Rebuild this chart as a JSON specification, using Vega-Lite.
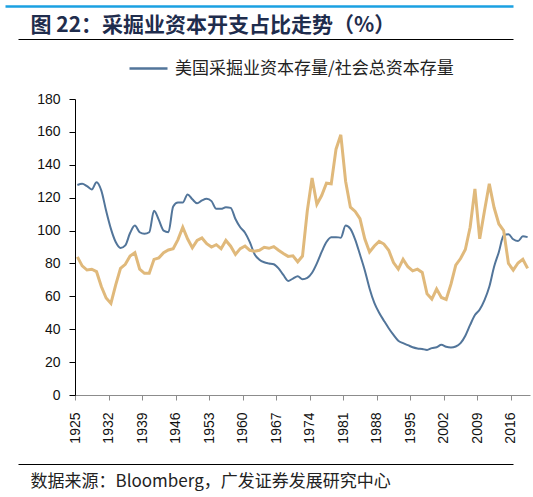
{
  "$schema": "https://vega.github.io/schema/vega-lite/v6.json",
  "autosize": {"type": "none"},
  "padding": {"left": 75, "top": 99, "right": 3, "bottom": 102},
  "width": 455,
  "height": 296,
  "background": "white",
  "config": {
    "view": {"stroke": null},
    "axisY": {
      "title": null,
      "grid": false,
      "domainColor": "#000000",
      "tickColor": "#000000",
      "tickSize": 6,
      "labelPadding": 9,
      "labelFont": "Liberation Sans",
      "labelFontSize": 14,
      "labelColor": "#111111",
      "labelOverlap": false,
      "labelFlush": false
    }
  },
  "data": {
    "values": [
      {"year": 1925, "stock": 127.7, "capex": 84},
      {"year": 1926, "stock": 128.5, "capex": 78.5},
      {"year": 1927, "stock": 127, "capex": 76},
      {"year": 1928, "stock": 125, "capex": 76.5},
      {"year": 1929, "stock": 129.4, "capex": 75},
      {"year": 1930, "stock": 124.3, "capex": 66},
      {"year": 1931, "stock": 112, "capex": 59},
      {"year": 1932, "stock": 101, "capex": 55.7},
      {"year": 1933, "stock": 93, "capex": 67},
      {"year": 1934, "stock": 89.4, "capex": 77},
      {"year": 1935, "stock": 91, "capex": 79.5},
      {"year": 1936, "stock": 98.5, "capex": 84.5},
      {"year": 1937, "stock": 103, "capex": 86.6},
      {"year": 1938, "stock": 99, "capex": 76.5},
      {"year": 1939, "stock": 98, "capex": 74},
      {"year": 1940, "stock": 99, "capex": 74},
      {"year": 1941, "stock": 112, "capex": 82.5},
      {"year": 1942, "stock": 106.5, "capex": 83.4},
      {"year": 1943, "stock": 100, "capex": 86.5},
      {"year": 1944, "stock": 99, "capex": 88.2},
      {"year": 1945, "stock": 114.6, "capex": 89},
      {"year": 1946, "stock": 117, "capex": 94.5},
      {"year": 1947, "stock": 117, "capex": 102},
      {"year": 1948, "stock": 122, "capex": 95},
      {"year": 1949, "stock": 119, "capex": 89.5},
      {"year": 1950, "stock": 116.6, "capex": 94},
      {"year": 1951, "stock": 118.3, "capex": 95.5},
      {"year": 1952, "stock": 119.3, "capex": 92},
      {"year": 1953, "stock": 117.9, "capex": 90},
      {"year": 1954, "stock": 113.2, "capex": 91.4},
      {"year": 1955, "stock": 113.2, "capex": 89},
      {"year": 1956, "stock": 114.2, "capex": 94},
      {"year": 1957, "stock": 113.8, "capex": 90.5},
      {"year": 1958, "stock": 107, "capex": 85.5},
      {"year": 1959, "stock": 102, "capex": 89},
      {"year": 1960, "stock": 98.7, "capex": 90.6},
      {"year": 1961, "stock": 93, "capex": 88},
      {"year": 1962, "stock": 85.6, "capex": 87.4},
      {"year": 1963, "stock": 82.3, "capex": 88},
      {"year": 1964, "stock": 80.7, "capex": 89.8},
      {"year": 1965, "stock": 80, "capex": 89.2},
      {"year": 1966, "stock": 79.5, "capex": 90.2},
      {"year": 1967, "stock": 77, "capex": 88},
      {"year": 1968, "stock": 73, "capex": 86},
      {"year": 1969, "stock": 69.4, "capex": 84.3},
      {"year": 1970, "stock": 70.8, "capex": 84.6},
      {"year": 1971, "stock": 72.2, "capex": 81},
      {"year": 1972, "stock": 70.4, "capex": 84.5},
      {"year": 1973, "stock": 71.2, "capex": 112},
      {"year": 1974, "stock": 74.3, "capex": 132},
      {"year": 1975, "stock": 80, "capex": 116},
      {"year": 1976, "stock": 87, "capex": 121.3},
      {"year": 1977, "stock": 93, "capex": 128.8},
      {"year": 1978, "stock": 95.9, "capex": 128.4},
      {"year": 1979, "stock": 96, "capex": 149.5},
      {"year": 1980, "stock": 95.7, "capex": 158.2},
      {"year": 1981, "stock": 103, "capex": 130},
      {"year": 1982, "stock": 101, "capex": 114.2},
      {"year": 1983, "stock": 94.5, "capex": 111.6},
      {"year": 1984, "stock": 85.4, "capex": 107.2},
      {"year": 1985, "stock": 75.9, "capex": 95},
      {"year": 1986, "stock": 64.8, "capex": 87},
      {"year": 1987, "stock": 56, "capex": 90.6},
      {"year": 1988, "stock": 50, "capex": 93.4},
      {"year": 1989, "stock": 45.2, "capex": 91.8},
      {"year": 1990, "stock": 40.6, "capex": 88},
      {"year": 1991, "stock": 36.5, "capex": 80.5},
      {"year": 1992, "stock": 33, "capex": 76.5},
      {"year": 1993, "stock": 31.5, "capex": 82.5},
      {"year": 1994, "stock": 30.3, "capex": 78},
      {"year": 1995, "stock": 29, "capex": 75.5},
      {"year": 1996, "stock": 28.3, "capex": 76.5},
      {"year": 1997, "stock": 28, "capex": 74.5},
      {"year": 1998, "stock": 27.4, "capex": 61.5},
      {"year": 1999, "stock": 28.5, "capex": 58.3},
      {"year": 2000, "stock": 29, "capex": 64.4},
      {"year": 2001, "stock": 30.5, "capex": 59.3},
      {"year": 2002, "stock": 29.3, "capex": 58.1},
      {"year": 2003, "stock": 28.9, "capex": 67.4},
      {"year": 2004, "stock": 29.5, "capex": 79},
      {"year": 2005, "stock": 31.5, "capex": 83},
      {"year": 2006, "stock": 36, "capex": 88.5},
      {"year": 2007, "stock": 42.6, "capex": 102},
      {"year": 2008, "stock": 48.6, "capex": 125.3},
      {"year": 2009, "stock": 52, "capex": 95},
      {"year": 2010, "stock": 57.7, "capex": 112},
      {"year": 2011, "stock": 65.8, "capex": 128.4},
      {"year": 2012, "stock": 78, "capex": 114},
      {"year": 2013, "stock": 87, "capex": 104},
      {"year": 2014, "stock": 97, "capex": 100},
      {"year": 2015, "stock": 97.7, "capex": 80},
      {"year": 2016, "stock": 94.7, "capex": 76},
      {"year": 2017, "stock": 93.6, "capex": 80.3},
      {"year": 2018, "stock": 96.5, "capex": 82.5},
      {"year": 2019, "stock": 96, "capex": 77}
    ]
  },
  "resolve": {"scale": {"x": "independent"}, "axis": {"x": "independent"}},
  "layer": [
    {
      "mark": {"type": "line", "interpolate": "monotone", "strokeWidth": 2},
      "encoding": {
        "x": {
          "field": "year",
          "type": "quantitative",
          "scale": {"domain": [1924.5, 2019.5], "nice": false, "zero": false},
          "axis": {
            "orient": "bottom",
            "title": null,
            "grid": false,
            "values": [1924.5, 1931.5, 1938.5, 1945.5, 1952.5, 1959.5, 1966.5, 1973.5, 1980.5, 1987.5, 1994.5, 2001.5, 2008.5, 2015.5],
            "labelExpr": "format(datum.value + 0.5, 'd')",
            "domainColor": "#8c8c8c",
            "tickColor": "#8c8c8c",
            "tickSize": 5,
            "labelAngle": 270,
            "labelAlign": "right",
            "labelBaseline": "middle",
            "labelPadding": 12,
            "labelFont": "Liberation Sans",
            "labelFontSize": 14,
            "labelColor": "#111111",
            "labelOverlap": false,
            "labelFlush": false,
            "labelBound": false
          }
        },
        "y": {
          "field": "stock",
          "type": "quantitative",
          "scale": {"domain": [0, 180], "nice": false},
          "axis": {"values": [0, 20, 40, 60, 80, 100, 120, 140, 160, 180]}
        },
        "color": {
          "datum": "美国采掘业资本存量/社会总资本存量",
          "scale": {"range": ["#52759a"]},
          "legend": {
            "orient": "none",
            "legendX": 53,
            "legendY": -51,
            "title": null,
            "padding": 0,
            "symbolType": "stroke",
            "symbolSize": 1444,
            "symbolStrokeWidth": 2.5,
            "labelOffset": 6,
            "labelLimit": 0,
            "labelFont": "Noto Sans CJK SC",
            "labelFontSize": 17,
            "labelColor": "#222222"
          }
        }
      }
    },
    {
      "mark": {"type": "line", "color": "#e0b97b", "strokeWidth": 3},
      "encoding": {
        "x": {
          "field": "year",
          "type": "quantitative",
          "scale": {"domain": [1924.5, 2019.5], "nice": false, "zero": false},
          "axis": null
        },
        "y": {
          "field": "capex",
          "type": "quantitative",
          "scale": {"domain": [0, 180], "nice": false},
          "axis": {"values": [0, 20, 40, 60, 80, 100, 120, 140, 160, 180]}
        }
      }
    },
    {
      "data": {"values": [{}]},
      "mark": {"type": "point", "opacity": 0},
      "encoding": {
        "x": {
          "datum": 0,
          "type": "quantitative",
          "scale": {"domain": [0, 1], "range": [-70, 438]},
          "axis": {
            "orient": "top",
            "offset": 93,
            "title": null,
            "labels": false,
            "ticks": false,
            "grid": false,
            "domainColor": "#1ba1e2",
            "domainWidth": 2.5
          }
        }
      }
    },
    {
      "data": {"values": [{}]},
      "mark": {"type": "point", "opacity": 0},
      "encoding": {
        "x": {
          "datum": 0,
          "type": "quantitative",
          "scale": {"domain": [0, 1], "range": [-57, 438]},
          "axis": {
            "orient": "top",
            "offset": 60,
            "labels": false,
            "ticks": false,
            "grid": false,
            "domainColor": "#000000",
            "domainWidth": 1,
            "title": "图 22：采掘业资本开支占比走势（%）",
            "titleFont": "Noto Sans CJK SC",
            "titleFontSize": 21,
            "titleFontWeight": "bold",
            "titleColor": "#1f2d4d",
            "titleX": -45,
            "titleY": -8,
            "titleAlign": "left",
            "titleBaseline": "alphabetic",
            "titleAngle": 0
          }
        }
      }
    },
    {
      "data": {"values": [{}]},
      "mark": {"type": "point", "opacity": 0},
      "encoding": {
        "x": {
          "datum": 0,
          "type": "quantitative",
          "scale": {"domain": [0, 1], "range": [-57, 438]},
          "axis": {
            "orient": "bottom",
            "offset": 69,
            "labels": false,
            "ticks": false,
            "grid": false,
            "domainColor": "#000000",
            "domainWidth": 1,
            "title": "数据来源：Bloomberg，广发证券发展研究中心",
            "titleFont": "Noto Sans CJK SC",
            "titleFontSize": 17,
            "titleFontWeight": "normal",
            "titleColor": "#222222",
            "titleX": -45,
            "titleY": 22,
            "titleAlign": "left",
            "titleBaseline": "alphabetic",
            "titleAngle": 0
          }
        }
      }
    }
  ]
}
